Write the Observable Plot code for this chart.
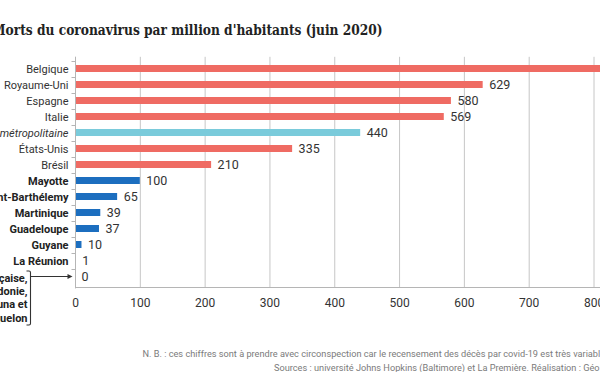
<!DOCTYPE html>
<html><head><meta charset="utf-8">
<script src="https://cdn.jsdelivr.net/npm/d3@7"></script>
<script src="https://cdn.jsdelivr.net/npm/@observablehq/plot@0.6"></script>
<style>
html,body{margin:0;padding:0;background:#fff;}
#wrap{position:relative;width:600px;height:372px;overflow:hidden;background:#fff;}
#chart{position:absolute;left:0;top:0;}
.t{position:absolute;white-space:nowrap;line-height:1;}
.bl{display:inline-block;width:0;height:0;}
#title{left:0;top:0;font-family:"DejaVu Serif";font-weight:bold;color:#222;font-size:14px;transform-origin:0 0;}
.note{font-family:Roboto;color:#7b7b7b;font-size:20px;}
</style></head><body>
<div id="wrap">
<div id="chart"></div>
<div id="title" class="t"><span id="tM">M</span><span id="tRest">orts du coronavirus par million d'habitants (juin 2020)</span><span class="bl"></span></div>
<div id="n1" class="t note"><span id="n1v">N. B. : ces chiffres sont à prendre avec circonspection car le recensement des décès par covid-19 est très variabl</span>e<span class="bl"></span></div>
<div id="n2" class="t note">Sources : université Johns Hopkins (Baltimore) et La Première. Réalisation : Géo<span class="bl"></span></div>
</div>
<script>
const categories = ["Belgique","Royaume-Uni","Espagne","Italie","France métropolitaine","États-Unis","Brésil","Mayotte","Saint-Barthélemy","Martinique","Guadeloupe","Guyane","La Réunion","Polynésie française, Nouvelle-Calédonie, Wallis-et-Futuna et Saint-Pierre-et-Miquelon"];
const values = [838, 629, 580, 569, 440, 335, 210, 100, 65, 39, 37, 10, 1, 0];
const groups = ["pays","pays","pays","pays","france","pays","pays","outremer","outremer","outremer","outremer","outremer","outremer","outremer"];
const groupedLabelLines = ["Polynésie française,","Nouvelle-Calédonie,","Wallis-et-Futuna et","Saint-Pierre-et-Miquelon"];
const xTicks = [0, 100, 200, 300, 400, 500, 600, 700, 800];
const groupNames = ["pays","france","outremer"];
const groupColors = ["#EF6B63","#7ACBDB","#1C6EBF"];

const data = categories.map((c, i) => ({category: c, value: values[i], group: groups[i], grouped: i === categories.length - 1}));
const single = data.filter(d => !d.grouped);

function annotations(index, scales, vals, dims) {
  const x = scales.x, y = scales.y;
  const bw = y.bandwidth ? y.bandwidth() : 0;
  const st = y.step ? y.step() : (y(categories[1]) - y(categories[0]));
  const x0 = Math.round(x(0)) + 0.5;
  const top = dims.marginTop, bottom = dims.height - dims.marginBottom;
  const g = d3.create("svg:g").attr("fill", "none");
  const axisColor = "#b5b5b5";
  g.append("line").attr("x1", x0).attr("x2", x0).attr("y1", top).attr("y2", bottom + 1).attr("stroke", axisColor);
  g.append("line").attr("x1", x0).attr("x2", dims.width).attr("y1", Math.round(bottom) + 0.5).attr("y2", Math.round(bottom) + 0.5).attr("stroke", axisColor);
  categories.forEach(c => {
    const yb = Math.round(y(c) + bw / 2 - st / 2) + 0.5;
    g.append("line").attr("x1", x0 - 4).attr("x2", x0).attr("y1", yb).attr("y2", yb).attr("stroke", axisColor);
  });
  const last = categories[categories.length - 1];
  const yc = y(last) + bw / 2;
  const bx = x0 - 45;
  const yt = yc - 5.5, yb2 = yc + 48.5;
  g.append("path")
    .attr("d", `M${bx - 4},${yt} L${bx - 1.5},${yt} Q${bx},${yt} ${bx},${yt + 1.5} L${bx},${yb2 - 1.5} Q${bx},${yb2} ${bx - 1.5},${yb2} L${bx - 4},${yb2}`)
    .attr("stroke", "#333").attr("stroke-width", 1.1);
  g.append("line").attr("x1", bx).attr("x2", x0 - 6).attr("y1", yc).attr("y2", yc).attr("stroke", "#333").attr("stroke-width", 1.1);
  g.append("path").attr("d", `M${x0 - 8},${yc - 2.6} L${x0 - 3},${yc} L${x0 - 8},${yc + 2.6} Z`).attr("fill", "#333");
  return g.node();
}

const plot = Plot.plot({
  width: 600,
  height: 372,
  marginTop: 56.8,
  marginBottom: 84.6,
  marginLeft: 75,
  marginRight: 6.5,
  style: {fontFamily: "Roboto", fontSize: "11px", background: "transparent", overflow: "hidden", color: "#333"},
  x: {domain: [0, 800], label: null},
  y: {domain: categories, paddingInner: 0.575, paddingOuter: 0.2875, axis: null, label: null},
  color: {domain: groupNames, range: groupColors},
  marks: [
    Plot.gridX(xTicks, {stroke: "#c6c6c6", strokeOpacity: 1}),
    Plot.barX(data, {x: "value", y: "category", fill: "group"}),
    Plot.text(single.filter(d => d.group === "pays"), {x: 0, y: "category", text: "category", textAnchor: "end", dx: -7, fill: "#333"}),
    Plot.text(single.filter(d => d.group === "france"), {x: 0, y: "category", text: "category", textAnchor: "end", dx: -7, fill: "#333", fontStyle: "italic"}),
    Plot.text(single.filter(d => d.group === "outremer"), {x: 0, y: "category", text: "category", textAnchor: "end", dx: -7, fill: "#222", fontWeight: "bold"}),
    Plot.text(data.filter(d => d.grouped), {x: 0, y: "category", text: () => groupedLabelLines.join("\n"), textAnchor: "end", lineAnchor: "top", dx: -48, dy: -4.3, lineHeight: 1.2, fill: "#222", fontWeight: "bold"}),
    Plot.text(data, {x: "value", y: "category", text: d => String(d.value), textAnchor: "start", dx: 6, fontSize: 12.5, fill: "#333"}),
    Plot.axisX(xTicks, {tickSize: 0, tickPadding: 11, fontSize: 12, fill: "#333", label: null}),
    annotations
  ]
});
document.getElementById("chart").appendChild(plot);

function place(el, left, baseline) {
  const wrap = document.getElementById("wrap").getBoundingClientRect();
  el.style.left = left + "px";
  el.style.top = "0px";
  const bl = el.querySelector(".bl").getBoundingClientRect().top - wrap.top;
  el.style.top = (baseline - bl) + "px";
}
// title: DejaVu Serif bold at cap height ~10px, horizontally scaled so "orts…" spans x=6..383
const title = document.getElementById("title");
const wM = document.getElementById("tM").getBoundingClientRect().width;
const wR = document.getElementById("tRest").getBoundingClientRect().width;
const k = 377 / wR;
title.style.transform = `scaleX(${k})`;
place(title, 6 - wM * k, 35);
// notes
const n1 = document.getElementById("n1"), n2 = document.getElementById("n2");
const wv = document.getElementById("n1v").getBoundingClientRect().width;
const ns = 20 * 458 / wv;
n1.style.fontSize = ns + "px";
n2.style.fontSize = ns + "px";
place(n1, 142.5, 357);
place(n2, 274, 371);
</script>
</body></html>
